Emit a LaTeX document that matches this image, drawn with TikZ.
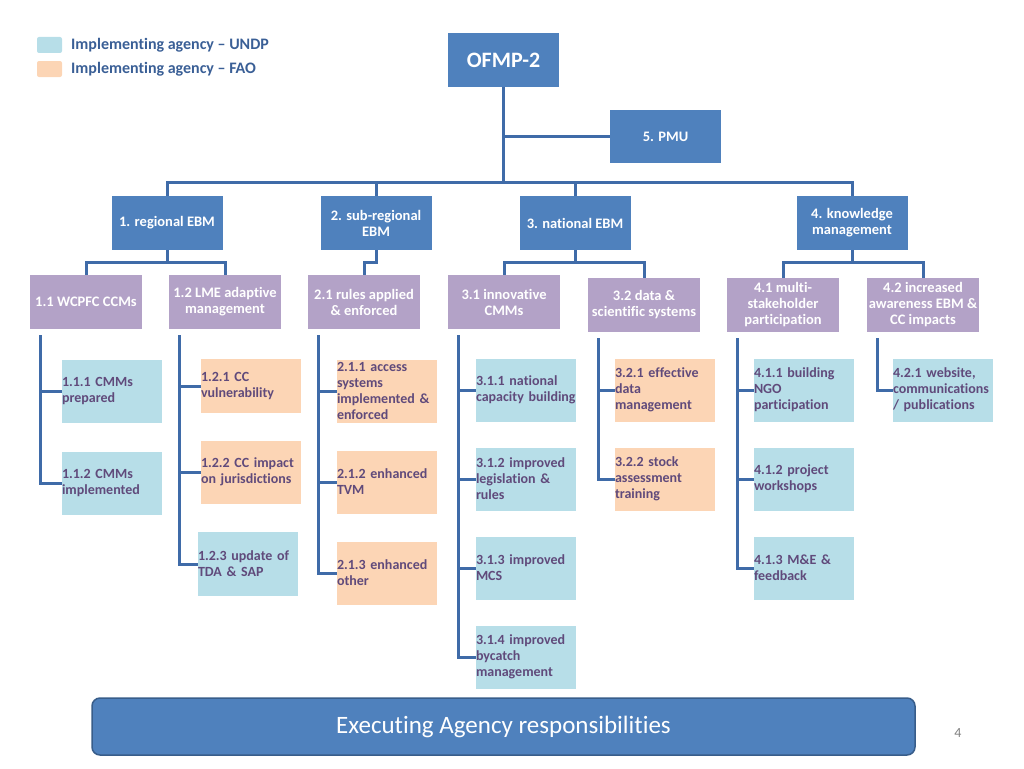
\documentclass[tikz,border=0pt]{standalone}
\usepackage{fontspec}
\setmainfont{Carlito}[Ligatures={TeX,NoCommon}]
\usetikzlibrary{calc}

\definecolor{hdblue}{HTML}{4F81BD}
\definecolor{hdedge}{HTML}{385D8A}
\definecolor{outpurple}{HTML}{B3A2C7}
\definecolor{undpblue}{HTML}{B7DEE8}
\definecolor{faoorange}{HTML}{FCD5B5}
\definecolor{leaftext}{HTML}{604A7B}
\definecolor{legtext}{HTML}{3A5F96}
\definecolor{linkblue}{HTML}{3F6BA8}

\begin{document}
\begin{tikzpicture}[x=1pt,y=-1pt,
   head/.style={fill=hdblue,text=white,font=\bfseries\fontsize{14.5}{16}\selectfont,
     minimum width=111pt,minimum height=54pt,inner sep=0pt,align=center},
   outp/.style={head,fill=outpurple,minimum width=112pt},
   leaf/.style={text=leaftext,font=\bfseries\fontsize{14}{16}\selectfont,
     text width=100pt,minimum height=63pt,inner sep=0pt,align=left},
   undp/.style={leaf,fill=undpblue},
   fao/.style={leaf,fill=faoorange},
   conn/.style={draw=linkblue,line width=3pt}]
   \useasboundingbox (0,0) rectangle (1024,768);

   % legend
   \fill[undpblue,rounded corners=2pt] (37,37) rectangle (62,53);
   \fill[faoorange,rounded corners=2pt] (37,61) rectangle (62,77);
   \node[anchor=west,inner sep=0pt,text=legtext,font=\bfseries\fontsize{16}{18}\selectfont] (legu) at (71,45) {Implementing agency -- UNDP};
   \node[anchor=west,inner sep=0pt,text=legtext,font=\bfseries\fontsize{16}{18}\selectfont] (legf) at (71,69) {Implementing agency -- FAO};

   % top levels
   \node[head,font=\bfseries\fontsize{22}{24}\selectfont] (ofmp) at (503.5,60) {OFMP-2};
   \node[head,minimum height=53pt] (pmu) at (665.5,136.5) {5. PMU};
   \node[head] (reg)  at (167,223) {1. regional EBM};
   \node[head] (sub)  at (376,223) {2. sub-regional\\EBM};
   \node[head] (nat)  at (575,223) {3. national EBM};
   \node[head] (know) at (852,223) {4. knowledge\\management};

   \coordinate (bus) at (503.5,182);
   \draw[conn] (ofmp) -- (bus);
   \draw[conn] (ofmp.south |- pmu.west) -- (pmu.west);
   \draw[conn] (reg.north) |- (bus) -| (know.north);
   \draw[conn] (sub.north) -- (sub.north |- bus);
   \draw[conn] (nat.north) -- (nat.north |- bus);

   % outputs
   \node[outp] (o11) at (86,302)  {1.1 WCPFC CCMs};
   \node[outp] (o12) at (225,302) {1.2 LME adaptive\\management};
   \node[outp] (o21) at (364,302) {2.1 rules applied\\\& enforced};
   \node[outp] (o31) at (504,302) {3.1 innovative\\CMMs};
   \node[outp] (o32) at (644,305) {3.2 data \&\\scientific systems};
   \node[outp] (o41) at (783,305) {4.1 multi-\\stakeholder\\participation};
   \node[outp] (o42) at (923,305) {4.2 increased\\awareness EBM \&\\CC impacts};

   \coordinate (regj)  at (167,262);
   \coordinate (subj)  at (376,262);
   \coordinate (natj)  at (575,262);
   \coordinate (knowj) at (852,262);
   \draw[conn] (reg) -- (regj);
   \draw[conn] (o11.north) |- (regj) -| (o12.north);
   \draw[conn] (sub) -- (subj) -| (o21.north);
   \draw[conn] (nat) -- (natj);
   \draw[conn] (o31.north) |- (natj) -| (o32.north);
   \draw[conn] (know) -- (knowj);
   \draw[conn] (o41.north) |- (knowj) -| (o42.north);

   % activities
   \node[undp] (a111) at (112,391) {1.1.1 CMMs\\prepared};
   \node[undp] (a112) at (112,483) {1.1.2 CMMs\\implemented};
   \node[fao,minimum height=54pt] (a121) at (251,386) {1.2.1 CC\\vulnerability};
   \node[fao] (a122) at (251,472) {1.2.2 CC impact\\on jurisdictions};
   \node[undp,minimum height=64pt] (a123) at (248,564) {1.2.3 update of\\TDA \& SAP};
   \node[fao] (a211) at (387,391) {2.1.1 access\\systems\\implemented \&\\enforced};
   \node[fao] (a212) at (387,482) {2.1.2 enhanced\\TVM};
   \node[fao] (a213) at (387,573) {2.1.3 enhanced\\other};
   \node[undp] (a311) at (526,390) {3.1.1 national\\capacity building};
   \node[undp] (a312) at (526,479) {3.1.2 improved\\legislation \&\\rules};
   \node[undp] (a313) at (526,568) {3.1.3 improved\\MCS};
   \node[undp] (a314) at (526,657) {3.1.4 improved\\bycatch\\management};
   \node[fao]  (a321) at (665,390) {3.2.1 effective\\data\\management};
   \node[fao]  (a322) at (665,479) {3.2.2 stock\\assessment\\training};
   \node[undp] (a411) at (804,390) {4.1.1 building\\NGO\\participation};
   \node[undp] (a412) at (804,479) {4.1.2 project\\workshops};
   \node[undp] (a413) at (804,568) {4.1.3 M\&E \&\\feedback};
   \node[undp] (a421) at (943,390) {4.2.1 website,\\communications\\/ publications};

   % spines from outputs to activities
   \foreach \o/\last in {11/112,12/123,21/213,31/314,32/322,41/413,42/421}
     \coordinate (s\o) at ([shift={(11,6)}]o\o.south west);
   \foreach \o/\last in {11/112,12/123,21/213,31/314,32/322,41/413,42/421}
     \draw[conn] (s\o) |- (a\last.west);
   \foreach \o/\a in {11/111,12/121,12/122,21/211,21/212,31/311,31/312,31/313,32/321,41/411,41/412}
     \draw[conn] (s\o |- a\a.west) -- (a\a.west);

   % banner
   \node[draw=hdedge,line width=1.5pt,fill=hdblue,rounded corners=8pt,
     minimum width=823pt,minimum height=57pt,text=white,
     font=\fontsize{25}{28}\selectfont] (banner) at (503.5,726.5) {Executing Agency responsibilities};
   \node[text=gray,font=\fontsize{14}{16}\selectfont] (pagenum) at (958,733) {4};
\end{tikzpicture}
\end{document}
